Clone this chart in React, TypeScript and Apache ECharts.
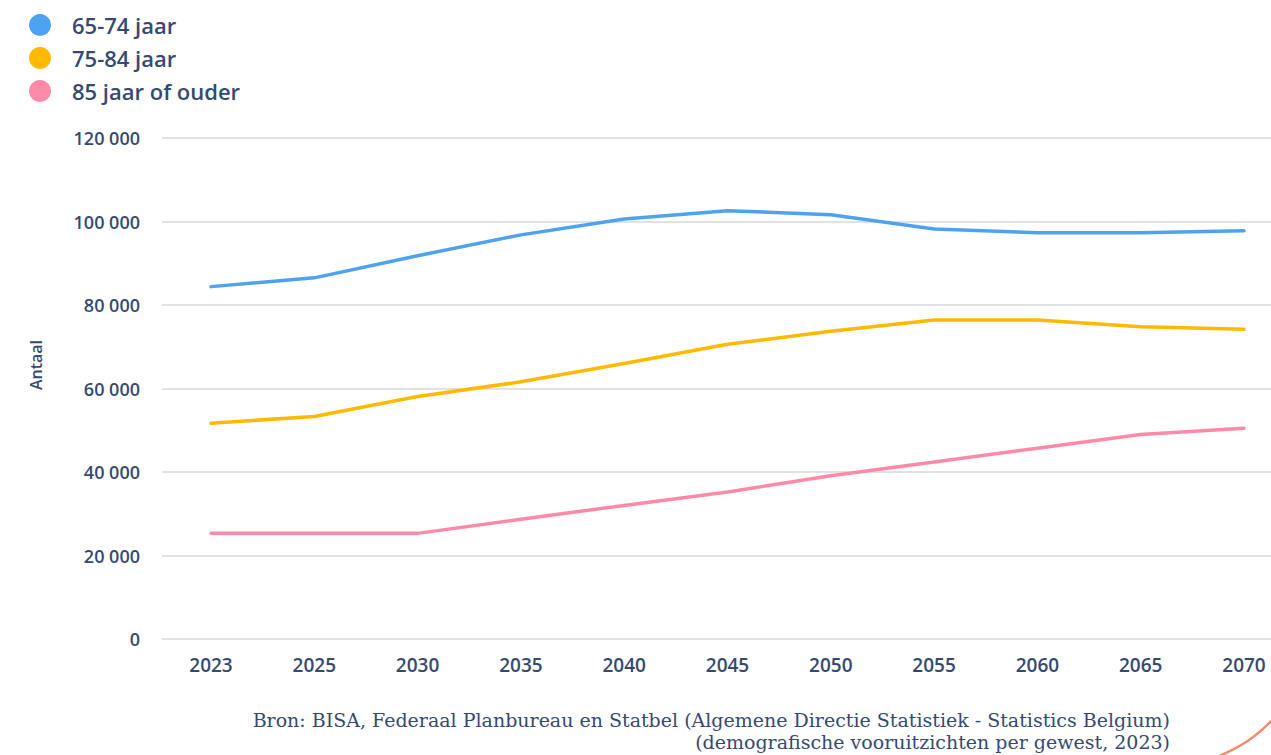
import React, { useEffect, useRef } from "react";
import * as echarts from "echarts";

const years = ["2023", "2025", "2030", "2035", "2040", "2045", "2050", "2055", "2060", "2065", "2070"];
const seriesNames = ["65-74 jaar", "75-84 jaar", "85 jaar of ouder"];
const age65to74 = [84400, 86500, 91800, 96800, 100600, 102600, 101600, 98200, 97300, 97300, 97800];
const age75to84 = [51700, 53300, 58100, 61600, 66000, 70600, 73700, 76400, 76400, 74800, 74200];
const age85plus = [25300, 25300, 25300, 28700, 32000, 35200, 39100, 42400, 45700, 49000, 50500];
const yTicks = [0, 20000, 40000, 60000, 80000, 100000, 120000];
const colors = ["#4ea3ef", "#ffb900", "#ff8aa8"];
const yAxisTitle = "Antaal";
const sourceLines = [
  "Bron: BISA, Federaal Planbureau en Statbel (Algemene Directie Statistiek - Statistics Belgium)",
  "(demografische vooruitzichten per gewest, 2023)",
];

const TEXT = "#364a70";
const FONT = "'Open Sans', sans-serif";

export default function App() {
  const ref = useRef<HTMLDivElement>(null);
  useEffect(() => {
    if (!ref.current) return;
    const chart = echarts.init(ref.current, undefined, { renderer: "svg" });
    const yMax = yTicks[yTicks.length - 1];
    const fmt = (v: number) => String(v).replace(/\B(?=(\d{3})+(?!\d))/g, " ");
    const allSeries = [age65to74, age75to84, age85plus];
    chart.setOption({
      animation: false,
      textStyle: { fontFamily: FONT },
      legend: {
        orient: "vertical",
        left: 24,
        top: 9,
        icon: "circle",
        itemWidth: 22,
        itemHeight: 22,
        itemGap: 11,
        data: seriesNames,
        textStyle: { fontSize: 22, color: TEXT, fontFamily: FONT, fontWeight: 600, padding: [0, 0, 0, 16] },
      },
      grid: [
        { left: 162, right: 0, top: 138, bottom: 116 },
        { left: 211, right: 27, top: 138, bottom: 116 },
      ],
      xAxis: [
        { gridIndex: 0, type: "category", data: years, show: false },
        {
          gridIndex: 1,
          type: "category",
          data: years,
          boundaryGap: false,
          axisLine: { show: false },
          axisTick: { show: false },
          axisLabel: { color: TEXT, fontSize: 19, fontWeight: 600, margin: 16, fontFamily: FONT },
        },
      ],
      yAxis: [
        {
          gridIndex: 0,
          type: "value",
          min: 0,
          max: yMax,
          interval: 20000,
          axisLine: { show: false },
          axisTick: { show: false },
          axisLabel: { color: TEXT, fontSize: 18, fontWeight: 600, margin: 22, formatter: fmt, fontFamily: FONT },
          splitLine: { lineStyle: { color: "#d9d9d9", width: 1.5 } },
        },
        {
          gridIndex: 1,
          type: "value",
          min: 0,
          max: yMax,
          show: false,
          splitLine: { show: false },
        },
      ],
      series: seriesNames.map((name, i) => ({
        name,
        type: "line",
        xAxisIndex: 1,
        yAxisIndex: 1,
        data: allSeries[i],
        showSymbol: false,
        symbol: "circle",
        color: colors[i],
        lineStyle: { width: 3.5, color: colors[i], cap: "round", join: "round" },
      })),
      graphic: [
        {
          type: "text",
          x: 36,
          y: 365,
          rotation: Math.PI / 2,
          style: {
            text: yAxisTitle,
            textAlign: "center",
            textVerticalAlign: "middle",
            fill: TEXT,
            font: "600 16px 'Open Sans', sans-serif",
          },
        },
        ...sourceLines.map((t, i) => ({
          type: "text",
          x: 1170,
          y: 710 + i * 22,
          style: {
            text: t,
            textAlign: "right",
            fill: TEXT,
            font: "19px 'DejaVu Serif', serif",
          },
        })),
        {
          type: "bezierCurve",
          shape: { x1: 1214, y1: 758, cpx1: 1240, cpy1: 748, cpx2: 1258, cpy2: 736, x2: 1276, y2: 716 },
          style: { stroke: "#f4896b", lineWidth: 2.5, fill: "none" },
        },
      ],
    });
    return () => chart.dispose();
  }, []);
  return (
    <div
      ref={ref}
      style={{ position: "fixed", left: 0, top: 0, width: 1271, height: 755, background: "#fff" }}
    />
  );
}
